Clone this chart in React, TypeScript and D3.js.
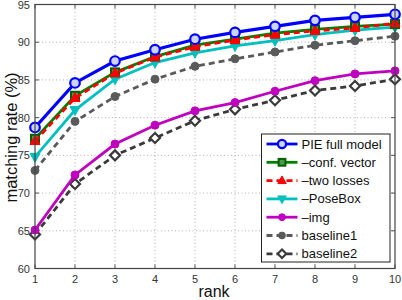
import React from "react";
import * as d3 from "d3";

const ranks = [1, 2, 3, 4, 5, 6, 7, 8, 9, 10];
const pieFull = [78.7, 84.6, 87.5, 89.0, 90.4, 91.3, 92.1, 92.9, 93.3, 93.7];
const confVector = [77.2, 82.9, 86.0, 88.1, 89.6, 90.4, 91.2, 91.7, 92.1, 92.4];
const twoLosses = [76.9, 82.6, 85.9, 88.0, 89.4, 90.3, 91.0, 91.5, 91.9, 92.5];
const poseBox = [74.8, 81.0, 85.1, 87.3, 88.6, 89.5, 90.2, 91.0, 91.6, 92.0];
const img = [65.1, 72.4, 76.5, 79.0, 80.9, 82.0, 83.5, 84.9, 85.8, 86.2];
const baseline1 = [73.0, 79.5, 82.8, 85.1, 86.8, 87.8, 88.7, 89.6, 90.2, 90.8];
const baseline2 = [64.5, 71.2, 75.0, 77.3, 79.6, 81.1, 82.3, 83.6, 84.2, 85.1];
const yTicks = [60, 65, 70, 75, 80, 85, 90, 95];
const xTicks = [1, 2, 3, 4, 5, 6, 7, 8, 9, 10];

type Series = {
  name: string;
  values: number[];
  color: string;
  dash?: string;
  marker: "circleOpen" | "square" | "triUp" | "triDown" | "circle" | "diamond";
  markerFill: string;
  markerStroke: string;
};

const series: Series[] = [
  { name: "baseline2", values: baseline2, color: "#3a3a3a", dash: "6,4", marker: "diamond", markerFill: "#fff", markerStroke: "#3a3a3a" },
  { name: "baseline1", values: baseline1, color: "#5a5a5a", dash: "6,4", marker: "circle", markerFill: "#5a5a5a", markerStroke: "#5a5a5a" },
  { name: "–img", values: img, color: "#bf00bf", marker: "circle", markerFill: "#bf00bf", markerStroke: "#bf00bf" },
  { name: "–PoseBox", values: poseBox, color: "#00bfbf", marker: "triDown", markerFill: "#00bfbf", markerStroke: "#00bfbf" },
  { name: "–conf. vector", values: confVector, color: "#008000", marker: "square", markerFill: "#4a9a4a", markerStroke: "#006000" },
  { name: "–two losses", values: twoLosses, color: "#ff0000", dash: "6,4", marker: "triUp", markerFill: "#ff0000", markerStroke: "#ff0000" },
  { name: "PIE full model", values: pieFull, color: "#0000ff", marker: "circleOpen", markerFill: "#ccd4ff", markerStroke: "#0000ff" },
];

const legendOrder = ["PIE full model", "–conf. vector", "–two losses", "–PoseBox", "–img", "baseline1", "baseline2"];

const x = d3.scaleLinear().domain([1, 10]).range([35, 395]);
const y = d3.scaleLinear().domain([60, 95]).range([268.5, 4.5]);

function Marker({ s, cx, cy, small }: { s: Series; cx: number; cy: number; small?: boolean }) {
  const k = small ? 0.85 : 1;
  switch (s.marker) {
    case "circleOpen":
      return <circle cx={cx} cy={cy} r={4.8 * k} fill={s.markerFill} stroke={s.markerStroke} strokeWidth={2.2} />;
    case "circle":
      return <circle cx={cx} cy={cy} r={4 * k} fill={s.markerFill} stroke={s.markerStroke} strokeWidth={1} />;
    case "square":
      return <rect x={cx - 4 * k} y={cy - 4 * k} width={8 * k} height={8 * k} fill={s.markerFill} stroke={s.markerStroke} strokeWidth={2} />;
    case "triUp":
      return <path d={`M${cx},${cy - 5.5 * k}L${cx + 5 * k},${cy + 3.5 * k}L${cx - 5 * k},${cy + 3.5 * k}Z`} fill={s.markerFill} stroke={s.markerStroke} strokeWidth={1} />;
    case "triDown":
      return <path d={`M${cx},${cy + 5.5 * k}L${cx + 5 * k},${cy - 3.5 * k}L${cx - 5 * k},${cy - 3.5 * k}Z`} fill={s.markerFill} stroke={s.markerStroke} strokeWidth={1} />;
    case "diamond":
      return <path d={`M${cx},${cy - 5 * k}L${cx + 5 * k},${cy}L${cx},${cy + 5 * k}L${cx - 5 * k},${cy}Z`} fill={s.markerFill} stroke={s.markerStroke} strokeWidth={2.2} />;
  }
}

export default function App() {
  const line = d3
    .line<number>()
    .x((_, i) => x(ranks[i]))
    .y((d) => y(d));
  const [x0, x1] = x.range();
  const [y0, y1] = y.range();
  const legX = 261.5;
  const legY = 134;
  const legW = 128.5;
  const legH = 128;
  const rowH = 18.3;
  return (
    <svg
      width={402}
      height={300}
      style={{ position: "absolute", left: 0, top: 0, background: "#fff" }}
      fontFamily="'Liberation Sans', Arial, sans-serif"
    >
      <rect x={0} y={0} width={402} height={300} fill="#fff" />
      {/* grid */}
      {xTicks.slice(1, -1).map((t) => (
        <line key={"gx" + t} x1={x(t)} x2={x(t)} y1={y0} y2={y1} stroke="#b0b0b0" strokeWidth={1} strokeDasharray="1,2.5" />
      ))}
      {yTicks.slice(1, -1).map((t) => (
        <line key={"gy" + t} x1={x0} x2={x1} y1={y(t)} y2={y(t)} stroke="#b0b0b0" strokeWidth={1} strokeDasharray="1,2.5" />
      ))}
      {/* ticks */}
      {xTicks.map((t) => (
        <g key={"tx" + t}>
          <line x1={x(t)} x2={x(t)} y1={y0} y2={y0 - 4} stroke="#555" />
          <line x1={x(t)} x2={x(t)} y1={y1} y2={y1 + 4} stroke="#555" />
          <text x={x(t)} y={y0 + 14} textAnchor="middle" fontSize={11} fill="#333">
            {t}
          </text>
        </g>
      ))}
      {yTicks.map((t) => (
        <g key={"ty" + t}>
          <line x1={x0} x2={x0 + 4} y1={y(t)} y2={y(t)} stroke="#555" />
          <line x1={x1} x2={x1 - 4} y1={y(t)} y2={y(t)} stroke="#555" />
          <text x={x0 - 5} y={y(t) + 4} textAnchor="end" fontSize={11} fill="#333">
            {t}
          </text>
        </g>
      ))}
      {/* series */}
      {series.map((s) => (
        <g key={s.name}>
          <path d={line(s.values) || ""} fill="none" stroke={s.color} strokeWidth={s.name === "PIE full model" ? 3.2 : 2.8} strokeDasharray={s.dash} />
          {s.values.map((v, i) => (
            <Marker key={i} s={s} cx={x(ranks[i])} cy={y(v)} />
          ))}
        </g>
      ))}
      {/* frame */}
      <rect x={x0} y={y1} width={x1 - x0} height={y0 - y1} fill="none" stroke="#444" strokeWidth={1.2} />
      {/* legend */}
      <rect x={legX} y={legY} width={legW} height={legH} fill="#fff" stroke="#222" strokeWidth={1} />
      {legendOrder.map((name, i) => {
        const s = series.find((q) => q.name === name)!;
        const cy = legY + 10 + i * rowH;
        return (
          <g key={"lg" + name}>
            <line x1={legX + 5} x2={legX + 36} y1={cy} y2={cy} stroke={s.color} strokeWidth={2.8} strokeDasharray={s.dash} />
            <Marker s={s} cx={legX + 20.5} cy={cy} small />
            <text x={legX + 40} y={cy + 4.5} fontSize={13} fill="#111">
              {name}
            </text>
          </g>
        );
      })}
      {/* axis labels */}
      <text x={214} y={297} textAnchor="middle" fontSize={16} fill="#111">
        rank
      </text>
      <text transform={`translate(17,${(y0 + y1) / 2 + 1}) rotate(-90)`} textAnchor="middle" fontSize={16.5} fill="#111">
        matching rate (%)
      </text>
    </svg>
  );
}
